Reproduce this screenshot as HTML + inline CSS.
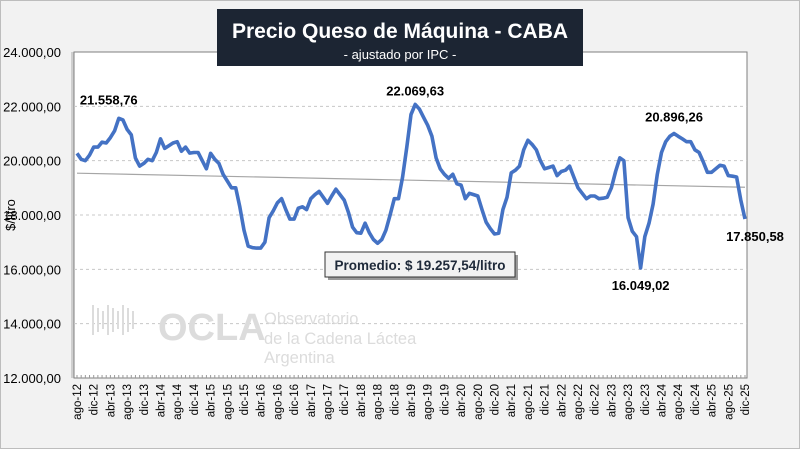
<!DOCTYPE html>
<html><head><meta charset="utf-8"><style>
body{margin:0;width:800px;height:449px;overflow:hidden;background:#fff;font-family:"Liberation Sans",sans-serif}
#frame{position:absolute;left:0;top:0;width:798px;height:447px;background:#f2f2f2;border:1px solid #bdbdbd}
</style></head><body>
<div id="frame"></div>
<svg id="chart" width="800" height="449" style="position:absolute;left:0;top:0"></svg>
<script>
const categoriesStart = {month: 7, year: 2012};
const monthNames = ["ene","feb","mar","abr","may","jun","jul","ago","sep","oct","nov","dic"];
const priceValues = [20270,20050,20000,20200,20500,20500,20680,20650,20850,21100,21559,21500,21150,20950,20100,19800,19900,20050,20000,20300,20800,20450,20550,20650,20700,20350,20500,20280,20300,20300,20000,19700,20270,20050,19900,19500,19250,19000,19000,18300,17440,16850,16800,16780,16780,17000,17900,18150,18450,18600,18200,17850,17850,18250,18300,18200,18600,18750,18870,18650,18430,18700,18950,18750,18550,18100,17550,17350,17330,17700,17350,17100,16960,17100,17440,18000,18600,18600,19400,20500,21700,22070,21900,21600,21300,20900,20100,19700,19500,19350,19500,19150,19100,18600,18800,18750,18700,18200,17740,17500,17300,17330,18200,18650,19550,19650,19800,20400,20750,20600,20400,20000,19700,19750,19800,19450,19600,19650,19800,19400,19000,18800,18600,18700,18700,18600,18620,18650,19000,19600,20100,20000,17900,17400,17200,16049,17200,17700,18400,19500,20300,20700,20900,21000,20897,20800,20700,20700,20400,20300,19950,19570,19570,19700,19830,19800,19450,19430,19400,18550,17851];
const yTicks = [12000,14000,16000,18000,20000,22000,24000];
const yTickLabels = ["12.000,00","14.000,00","16.000,00","18.000,00","20.000,00","22.000,00","24.000,00"];
const annotIdx = [10,81,135,143,160];
const annotLabels = ["21.558,76","22.069,63","16.049,02","20.896,26","17.850,58"];
const averageLabel = "Promedio: $ 19.257,54/litro";

const NS="http://www.w3.org/2000/svg";
const svg=document.getElementById('chart');
const L=74,R=747,T=52,B=378,Y0=12000,Y1=24000;
const n=priceValues.length;
const xs=i=>L+3+(R-L-5)*i/(n-1);
const ys=v=>B-(v-Y0)/(Y1-Y0)*(B-T);
function el(t,a,p){const e=document.createElementNS(NS,t);for(const k in a)e.setAttribute(k,a[k]);(p||svg).appendChild(e);return e;}

const shadow=el('rect',{x:L-3,y:T,width:R-L+3,height:B-T,fill:'#cfcfcf'});


const plot=el('rect',{x:L,y:T,width:R-L,height:B-T,fill:'#fff',stroke:'#7f7f7f','stroke-width':1});



yTicks.forEach((v,k)=>{
  if(k>0&&k<yTicks.length-1){const g=el('line',{x1:L,x2:R,y1:ys(v),y2:ys(v),stroke:'#c8c8c8','stroke-dasharray':'3,3'});
  
  }
  const t=el('text',{x:61,y:ys(v)+5,'text-anchor':'end','font-size':13,fill:'#000'});t.textContent=yTickLabels[k];
  
  
});

// watermark
const wm=el('g',{fill:'#dcdcdc'});


for(let i=0;i<9;i++){el('rect',{x:92+i*5,y:305+(i%3)*3,width:2,height:30-(i%3)*6},wm);}
const wt=el('text',{x:158,y:340,'font-size':38,'font-weight':'bold',fill:'#dcdcdc'},wm);wt.textContent="OCLA";
[["Observatorio",324],["de la Cadena Láctea",344],["Argentina",363]].forEach(([s,y])=>{const t=el('text',{x:264,y:y,'font-size':16.5,fill:'#dcdcdc'},wm);t.textContent=s;});

// trend line (least squares)
let sx=0,sy=0,sxx=0,sxy=0;priceValues.forEach((v,i)=>{sx+=i;sy+=v;sxx+=i*i;sxy+=i*v;});
const slope=(n*sxy-sx*sy)/(n*sxx-sx*sx),icp=(sy-slope*sx)/n;
const tl=el('line',{x1:xs(0),y1:ys(icp),x2:xs(n-1),y2:ys(icp+slope*(n-1)),stroke:'#a6a6a6','stroke-width':1.2});



const ln=el('polyline',{points:priceValues.map((v,i)=>xs(i).toFixed(1)+','+ys(v).toFixed(1)).join(' '),fill:'none',stroke:'#4472c4','stroke-width':3.6,'stroke-linejoin':'round'});



// x ticks & labels
for(let i=0;i<n;i++){
  const tk=el('line',{x1:xs(i),x2:xs(i),y1:B,y2:B-3,stroke:'#9a9a9a'});
  
  
  if(i%4===0){const m=(categoriesStart.month+i)%12,yr=categoriesStart.year+Math.floor((categoriesStart.month+i)/12);
    const t=el('text',{x:0,y:0,'font-size':11.5,'text-anchor':'end',transform:`translate(${xs(i)+4},384) rotate(-90)`});
    t.textContent=monthNames[m]+'-'+String(yr).slice(2);
    
    }
}
const yt=el('text',{x:0,y:0,'font-size':13,'text-anchor':'middle',transform:'translate(15,215) rotate(-90)'});yt.textContent="$/litro";



const offs=[[-10,-14],[0,-9],[0,22],[0,-12],[10,22]];
annotIdx.forEach((ix,k)=>{const t=el('text',{x:xs(ix)+offs[k][0],y:ys(priceValues[ix])+offs[k][1],'font-size':13,'font-weight':'bold','text-anchor':'middle'});t.textContent=annotLabels[k];
  
  });

// average box
const ab=el('g',{});


el('rect',{x:328,y:255,width:190,height:25,fill:'#9a9a9a'},ab);
el('rect',{x:325,y:252,width:190,height:25,fill:'#f2f2f2',stroke:'#333','stroke-width':1},ab);
const at=el('text',{x:420,y:270,'font-size':13.5,'font-weight':'bold','text-anchor':'middle',fill:'#1f2a3a'},ab);at.textContent=averageLabel;

// title
const tg=el('g',{});


el('rect',{x:217,y:9,width:366,height:57,fill:'#1c2533'},tg);
const t1=el('text',{x:400,y:38,'font-size':21,'font-weight':'bold',fill:'#fff','text-anchor':'middle'},tg);t1.textContent="Precio Queso de Máquina - CABA";
const t2=el('text',{x:400,y:59,'font-size':13,fill:'#fff','text-anchor':'middle'},tg);t2.textContent="- ajustado por IPC -";
</script>
</body></html>
